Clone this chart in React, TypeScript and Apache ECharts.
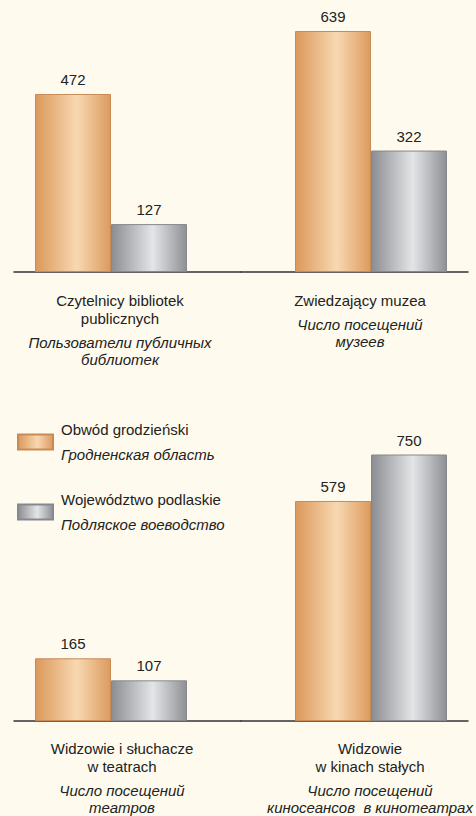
import React, { useEffect, useRef } from "react";
import * as echarts from "echarts";

// ---- Data ----
const categoriesPl: string[] = [
  "Czytelnicy bibliotek\npublicznych",
  "Zwiedzający muzea",
  "Widzowie i słuchacze\nw teatrach",
  "Widzowie\nw kinach stałych",
];
const categoriesRu: string[] = [
  "Пользователи публичных\nбиблиотек",
  "Число посещений\nмузеев",
  "Число посещений\nтеатров",
  "Число посещений\nкиносеансов  в кинотеатрах",
];
const grodnoValues: number[] = [472, 639, 165, 579];
const podlaskieValues: number[] = [127, 322, 107, 750];
const seriesNames: string[] = ["Obwód grodzieński", "Województwo podlaskie"];
const seriesNamesRu: string[] = ["Гродненская область", "Подляское воеводство"];

// ---- Layout ----
const panels = [
  { left: 14, top: 8, height: 264, spacerAfter: true, labelPad: [0, 15, 0, 0], margin: 19 },
  { left: 241, top: 8, height: 264, spacerAfter: false, labelPad: [0, 0, 0, 11], margin: 19 },
  { left: 14, top: 455, height: 266, spacerAfter: true, labelPad: [0, 11, 0, 0], margin: 18 },
  { left: 241, top: 455, height: 266, spacerAfter: false, labelPad: [0, 0, 0, 31], margin: 18 },
];
const PANEL_W = 227;
const BAR_W = 76;
const SPACER_W = 33;
const TEXT = "#222222";
const FONT = "Liberation Sans, Arial, sans-serif";

const orangeGrad = {
  type: "linear", x: 0, y: 0, x2: 1, y2: 0,
  colorStops: [
    { offset: 0, color: "#DB985B" },
    { offset: 0.55, color: "#F8D8B1" },
    { offset: 1, color: "#DC9B5F" },
  ],
};
const grayGrad = {
  type: "linear", x: 0, y: 0, x2: 1, y2: 0,
  colorStops: [
    { offset: 0, color: "#8B8D92" },
    { offset: 0.55, color: "#E4E5E7" },
    { offset: 1, color: "#8E9095" },
  ],
};

function buildLabel(i: number): string {
  const pl = categoriesPl[i].split("\n").map((s) => `{a|${s}}`);
  const ru = categoriesRu[i].split("\n").map((s) => `{b|${s}}`);
  return [...pl, "{g| }", ...ru].join("\n");
}

export default function App() {
  const ref = useRef<HTMLDivElement>(null);
  useEffect(() => {
    if (!ref.current) return;
    const chart = echarts.init(ref.current, undefined, { renderer: "svg" });

    const grid = panels.map((p) => ({ left: p.left, top: p.top, width: PANEL_W, height: p.height }));
    const xAxis = panels.map((p, i) => ({
      type: "category",
      gridIndex: i,
      data: [categoriesPl[i]],
      axisTick: { show: false },
      axisLine: { lineStyle: { color: "#333", width: 1.5 } },
      axisLabel: {
        interval: 0,
        margin: p.margin,
        padding: p.labelPad,
        formatter: () => buildLabel(i),
        rich: {
          a: { fontFamily: FONT, fontSize: 15, lineHeight: 18, color: TEXT },
          g: { fontSize: 5, lineHeight: 7 },
          b: { fontFamily: FONT, fontSize: 15, lineHeight: 17, color: TEXT, fontStyle: "italic" },
        },
      },
    }));
    const yAxis = panels.map((p, i) => ({
      type: "value",
      gridIndex: i,
      min: 0,
      max: 700,
      show: false,
      splitLine: { show: false },
    }));

    const series: any[] = [];
    panels.forEach((p, i) => {
      const common = {
        type: "bar",
        xAxisIndex: i,
        yAxisIndex: i,
        barWidth: BAR_W,
        barGap: "0%",
        label: {
          show: true,
          position: "top",
          distance: 7,
          fontFamily: FONT,
          fontSize: 15,
          color: TEXT,
        },
      };
      const spacer = {
        type: "bar",
        name: "spacer",
        xAxisIndex: i,
        yAxisIndex: i,
        barWidth: SPACER_W,
        barGap: "0%",
        data: [0],
        silent: true,
        itemStyle: { color: "transparent" },
        label: { show: false },
      };
      const orange = {
        ...common,
        name: seriesNames[0],
        data: [grodnoValues[i]],
        itemStyle: { color: orangeGrad, borderColor: "#C98B56", borderWidth: 1 },
      };
      const gray = {
        ...common,
        name: seriesNames[1],
        data: [podlaskieValues[i]],
        itemStyle: { color: grayGrad, borderColor: "#86888D", borderWidth: 1 },
      };
      if (p.spacerAfter) series.push(orange, gray, spacer);
      else series.push(spacer, orange, gray);
    });

    chart.setOption({
      animation: false,
      backgroundColor: "#FEFBEE",
      textStyle: { fontFamily: FONT },
      legend: {
        orient: "vertical",
        left: 17,
        top: 422,
        padding: 0,
        itemWidth: 35,
        itemHeight: 15,
        itemGap: 30,
        icon: "rect",
        selectedMode: false,
        data: seriesNames,
        formatter: (name: string) => {
          const idx = seriesNames.indexOf(name);
          return `{a|${name}}\n{b|${seriesNamesRu[idx]}}`;
        },
        textStyle: {
          padding: [0, 0, 0, 3],
          rich: {
            a: { fontFamily: FONT, fontSize: 15, lineHeight: 25, color: TEXT },
            b: { fontFamily: FONT, fontSize: 15, lineHeight: 25, color: TEXT, fontStyle: "italic" },
          },
        },
      },
      grid,
      xAxis,
      yAxis,
      series,
    });
    return () => chart.dispose();
  }, []);

  return (
    <div
      ref={ref}
      style={{ position: "fixed", left: 0, top: 0, width: 476, height: 816 }}
    />
  );
}
